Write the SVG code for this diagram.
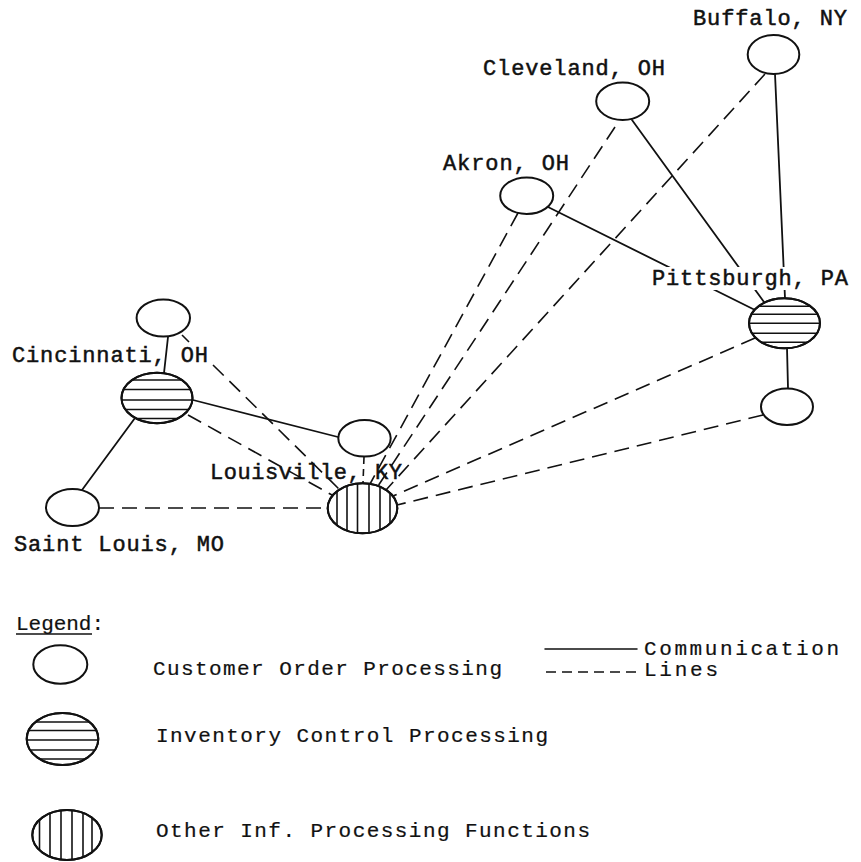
<svg xmlns="http://www.w3.org/2000/svg" width="861" height="862" viewBox="0 0 861 862">
<style>
.node{fill:#fff;stroke:#111;stroke-width:2}
.hat{fill:none;stroke:#111;stroke-width:1.6}
.solid{fill:none;stroke:#111;stroke-width:1.8;stroke-linecap:round}
.dash{fill:none;stroke:#111;stroke-width:1.6;stroke-dasharray:15 8}
.lbl{font-family:"Liberation Mono","DejaVu Sans Mono",monospace;font-size:22px;fill:#111;stroke:#111;stroke-width:0.5}
.leg{font-family:"Liberation Mono","DejaVu Sans Mono",monospace;font-size:21px;fill:#111;stroke:#111;stroke-width:0.2}
</style>
<defs>
<clipPath id="cPit"><ellipse cx="784.5" cy="323.3" rx="35.5" ry="25"/></clipPath>
<clipPath id="cCin"><ellipse cx="157" cy="398" rx="35.5" ry="25.3"/></clipPath>
<clipPath id="cLou"><ellipse cx="362.5" cy="508.3" rx="34.8" ry="25"/></clipPath>
<clipPath id="cLegInv"><ellipse cx="62.5" cy="739" rx="35.8" ry="26"/></clipPath>
<clipPath id="cLegOth"><ellipse cx="67" cy="835" rx="34.7" ry="25"/></clipPath>
</defs>
<rect width="861" height="862" fill="#fff"/>

<g id="connectors">
<line class="solid" x1="775" y1="74" x2="785" y2="298"/>
<line class="solid" x1="632" y1="120" x2="764" y2="302"/>
<line class="solid" x1="548" y1="207" x2="755" y2="310"/>
<line class="solid" x1="787" y1="348" x2="788" y2="388"/>
<line class="solid" x1="168" y1="337" x2="164" y2="373"/>
<line class="solid" x1="135" y1="418" x2="82" y2="490"/>
<line class="solid" x1="193" y1="400" x2="338" y2="437"/>
<line class="dash" x1="182" y1="335" x2="189" y2="342"/>
<line class="dash" x1="213" y1="365" x2="340" y2="490"/>
<line class="dash" x1="188" y1="415" x2="332" y2="495"/>
<line class="dash" x1="99" y1="508" x2="328" y2="508"/>
<line class="dash" x1="364" y1="457" x2="363" y2="483" style="stroke-dasharray:7 5"/>
<line class="dash" x1="518" y1="213" x2="370" y2="484"/>
<line class="dash" x1="615" y1="127" x2="378" y2="486"/>
<line class="dash" x1="765" y1="74" x2="386" y2="490"/>
<line class="dash" x1="755" y1="338" x2="393" y2="496"/>
<line class="dash" x1="763" y1="415" x2="397" y2="505"/>
</g>

<g id="buffalo">
<ellipse class="node" cx="773.5" cy="54.5" rx="25.8" ry="19.5"/>
<text class="lbl" x="693" y="25" textLength="154" lengthAdjust="spacing">Buffalo, NY</text>
</g>
<g id="cleveland">
<ellipse class="node" cx="622.7" cy="101.3" rx="26.5" ry="18.7"/>
<text class="lbl" x="483" y="75" textLength="182" lengthAdjust="spacing">Cleveland, OH</text>
</g>
<g id="akron">
<ellipse class="node" cx="526.7" cy="195.7" rx="26.5" ry="18.3"/>
<text class="lbl" x="443" y="170" textLength="126" lengthAdjust="spacing">Akron, OH</text>
</g>
<g id="pittsburgh">
<rect x="648" y="267" width="204" height="23" fill="#fff"/>
<text class="lbl" x="652" y="285" textLength="196" lengthAdjust="spacing">Pittsburgh, PA</text>
<ellipse class="node" cx="784.5" cy="323.3" rx="35.5" ry="25"/>
<g clip-path="url(#cPit)">
<line class="hat" x1="745" y1="306.3" x2="825" y2="306.3"/>
<line class="hat" x1="745" y1="314.3" x2="825" y2="314.3"/>
<line class="hat" x1="745" y1="323.3" x2="825" y2="323.3"/>
<line class="hat" x1="745" y1="333.3" x2="825" y2="333.3"/>
<line class="hat" x1="745" y1="342.3" x2="825" y2="342.3"/>
</g>
<ellipse cx="784.5" cy="323.3" rx="35.5" ry="25" fill="none" stroke="#111" stroke-width="2"/>
</g>
<g id="pittsburgh-customer">
<ellipse class="node" cx="787" cy="406.7" rx="26" ry="18.3"/>
</g>
<g id="cincinnati-customer">
<ellipse class="node" cx="163.3" cy="318" rx="26.7" ry="18.5"/>
</g>
<g id="cincinnati">
<text class="lbl" x="12" y="362" textLength="196" lengthAdjust="spacing">Cincinnati, OH</text>
<ellipse class="node" cx="157" cy="398" rx="35.5" ry="25.3"/>
<g clip-path="url(#cCin)">
<line class="hat" x1="118" y1="380" x2="196" y2="380"/>
<line class="hat" x1="118" y1="389.5" x2="196" y2="389.5"/>
<line class="hat" x1="118" y1="400" x2="196" y2="400"/>
<line class="hat" x1="118" y1="409.5" x2="196" y2="409.5"/>
<line class="hat" x1="118" y1="418.5" x2="196" y2="418.5"/>
</g>
<ellipse cx="157" cy="398" rx="35.5" ry="25.3" fill="none" stroke="#111" stroke-width="2"/>
</g>
<g id="louisville-customer">
<ellipse class="node" cx="364.5" cy="438.3" rx="26.2" ry="18.3"/>
</g>
<g id="louisville">
<text class="lbl" x="210" y="479" textLength="192" lengthAdjust="spacing">Louisville, KY</text>
<ellipse class="node" cx="362.5" cy="508.3" rx="34.8" ry="25"/>
<g clip-path="url(#cLou)">
<line class="hat" x1="337" y1="480" x2="337" y2="536"/>
<line class="hat" x1="347" y1="480" x2="347" y2="536"/>
<line class="hat" x1="357.5" y1="480" x2="357.5" y2="536"/>
<line class="hat" x1="369" y1="480" x2="369" y2="536"/>
<line class="hat" x1="380" y1="480" x2="380" y2="536"/>
<line class="hat" x1="390" y1="480" x2="390" y2="536"/>
</g>
<ellipse cx="362.5" cy="508.3" rx="34.8" ry="25" fill="none" stroke="#111" stroke-width="2"/>
</g>
<g id="saint-louis">
<ellipse class="node" cx="72.5" cy="507.5" rx="26.5" ry="18.5"/>
<text class="lbl" x="14" y="551" textLength="210" lengthAdjust="spacing">Saint Louis, MO</text>
</g>

<g id="legend">
<text class="leg" x="16" y="630" textLength="88" lengthAdjust="spacing">Legend:</text>
<line x1="16" y1="634" x2="92" y2="634" stroke="#111" stroke-width="1.5"/>
<ellipse class="node" cx="60.3" cy="664.5" rx="27" ry="19.2"/>
<text class="leg" x="153" y="675" textLength="349" lengthAdjust="spacing">Customer Order Processing</text>
<line class="solid" x1="545" y1="649" x2="637" y2="649" style="stroke-width:1.5"/>
<line x1="546" y1="672" x2="637" y2="672" stroke="#111" stroke-width="1.5" stroke-dasharray="10 6"/>
<text class="leg" x="644" y="655" textLength="195" lengthAdjust="spacing">Communication</text>
<text class="leg" x="644" y="676" textLength="74" lengthAdjust="spacing">Lines</text>
<ellipse class="node" cx="62.5" cy="739" rx="35.8" ry="26"/>
<g clip-path="url(#cLegInv)">
<line class="hat" x1="24" y1="722" x2="101" y2="722"/>
<line class="hat" x1="24" y1="730.5" x2="101" y2="730.5"/>
<line class="hat" x1="24" y1="740" x2="101" y2="740"/>
<line class="hat" x1="24" y1="750" x2="101" y2="750"/>
<line class="hat" x1="24" y1="759" x2="101" y2="759"/>
</g>
<ellipse cx="62.5" cy="739" rx="35.8" ry="26" fill="none" stroke="#111" stroke-width="2"/>
<text class="leg" x="156" y="742" textLength="392" lengthAdjust="spacing">Inventory Control Processing</text>
<ellipse class="node" cx="67" cy="835" rx="34.7" ry="25"/>
<g clip-path="url(#cLegOth)">
<line class="hat" x1="39.5" y1="808" x2="39.5" y2="862"/>
<line class="hat" x1="50" y1="808" x2="50" y2="862"/>
<line class="hat" x1="61" y1="808" x2="61" y2="862"/>
<line class="hat" x1="72" y1="808" x2="72" y2="862"/>
<line class="hat" x1="83" y1="808" x2="83" y2="862"/>
<line class="hat" x1="92" y1="808" x2="92" y2="862"/>
</g>
<ellipse cx="67" cy="835" rx="34.7" ry="25" fill="none" stroke="#111" stroke-width="2"/>
<text class="leg" x="156" y="837" textLength="434" lengthAdjust="spacing">Other Inf. Processing Functions</text>
</g>
</svg>
